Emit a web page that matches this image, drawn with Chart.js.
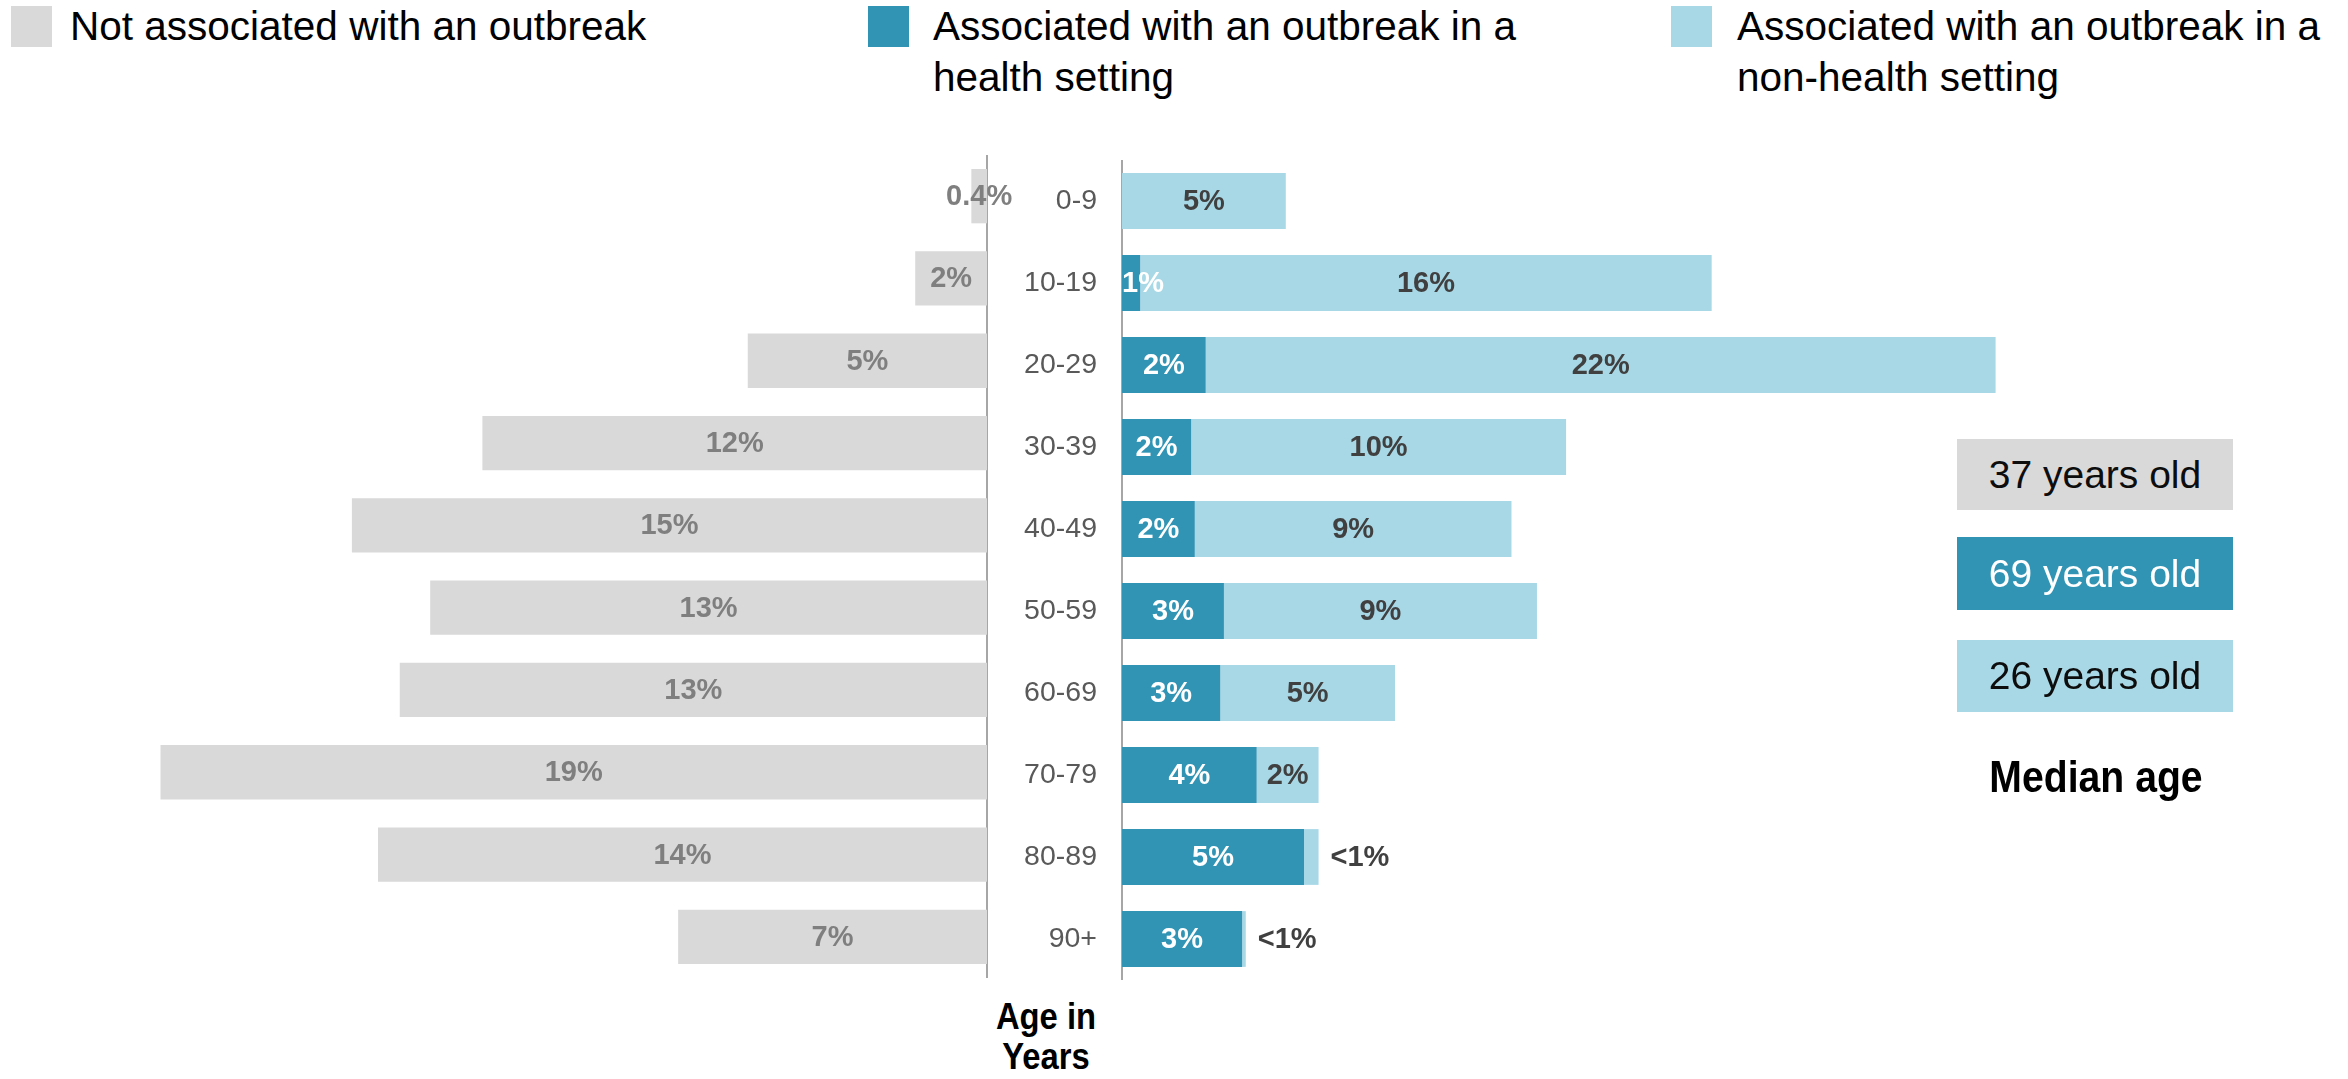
<!DOCTYPE html>
<html lang="en">
<head>
    <meta charset="UTF-8">
    <title>Age distribution by outbreak association</title>
    <style>
        body {
            margin: 0;
            background: #ffffff;
            font-family: 'Liberation Sans', Arial, sans-serif;
        }
        .page {
            position: relative;
            width: 2348px;
            height: 1079px;
            overflow: hidden;
        }
        .swatch {
            position: absolute;
            top: 6px;
            width: 41px;
            height: 41px;
        }
        .legend-text {
            position: absolute;
            top: 1px;
            font-size: 40.5px;
            line-height: 51px;
            color: #000000;
            white-space: nowrap;
        }
        canvas {
            position: absolute;
        }
        .median {
            position: absolute;
            left: 1957px;
            width: 276px;
            font-size: 39px;
            text-align: center;
        }
        .median-title {
            position: absolute;
            left: 1946px;
            width: 300px;
            top: 752px;
            font-size: 44px;
            font-weight: bold;
            text-align: center;
            transform: scaleX(0.89);
            color: #000000;
        }
        .age-title {
            position: absolute;
            left: 966px;
            width: 160px;
            top: 997px;
            font-size: 36px;
            line-height: 40px;
            font-weight: bold;
            text-align: center;
            transform: scaleX(0.91);
            color: #000000;
        }
    </style>
</head>
<body>
<div class="page">
    <div class="swatch" style="left:11px; background:#d9d9d9;"></div>
    <div class="legend-text" style="left:70px;">Not associated with an outbreak</div>
    <div class="swatch" style="left:868px; background:#3194b4;"></div>
    <div class="legend-text" style="left:933px;">Associated with an outbreak in a<br>health setting</div>
    <div class="swatch" style="left:1671px; background:#a8d8e6;"></div>
    <div class="legend-text" style="left:1737px;">Associated with an outbreak in a<br>non-health setting</div>

    <canvas id="leftChart" width="1020" height="823" style="left:0px; top:155px;"></canvas>
    <canvas id="rightChart" width="1214" height="820" style="left:1000px; top:160px;"></canvas>

    <div class="median" id="median0" style="top:439px; height:71px; line-height:71px; background:#d9d9d9; color:#0d0d0d;"></div>
    <div class="median" id="median1" style="top:537px; height:73px; line-height:73px; background:#3194b4; color:#ffffff;"></div>
    <div class="median" id="median2" style="top:640px; height:72px; line-height:72px; background:#a8d8e6; color:#0d0d0d;"></div>
    <div class="median-title">Median age</div>

    <div class="age-title">Age in<br>Years</div>
</div>

<script src="https://cdn.jsdelivr.net/npm/chart.js"></script>
<script>
    // data (percent of cases)
    const ageGroups = ['0-9', '10-19', '20-29', '30-39', '40-49', '50-59', '60-69', '70-79', '80-89', '90+'];

    const notAssociated = [0.36, 1.65, 5.5, 11.6, 14.6, 12.8, 13.5, 19.0, 14.0, 7.1];
    const notAssociatedLabels = ['0.4%', '2%', '5%', '12%', '15%', '13%', '13%', '19%', '14%', '7%'];

    const healthSetting = [0, 0.5, 2.3, 1.9, 2.0, 2.8, 2.7, 3.7, 5.0, 3.3];
    const healthLabels = ['', '1%', '2%', '2%', '2%', '3%', '3%', '4%', '5%', '3%'];

    const nonHealthSetting = [4.5, 15.7, 21.7, 10.3, 8.7, 8.6, 4.8, 1.7, 0.4, 0.1];
    const nonHealthLabels = ['5%', '16%', '22%', '10%', '9%', '9%', '5%', '2%', '<1%', '<1%'];

    const medianAges = ['37 years old', '69 years old', '26 years old'];

    const fontFamily = "'Liberation Sans', Arial, sans-serif";

    medianAges.forEach((txt, i) => {
        document.getElementById('median' + i).textContent = txt;
    });

    // draws the % labels on the bars
    const barLabels = {
        id: 'barLabels',
        afterDatasetsDraw(chart) {
            const ctx = chart.ctx;
            chart.data.datasets.forEach((ds, i) => {
                const meta = chart.getDatasetMeta(i);
                meta.data.forEach((bar, j) => {
                    const text = ds.labelTexts[j];
                    if (!text) return;
                    ctx.save();
                    ctx.font = 'bold 29px ' + fontFamily;
                    ctx.fillStyle = ds.labelColor;
                    ctx.textBaseline = 'middle';
                    const w = ctx.measureText(text).width;
                    const lo = Math.min(bar.x, bar.base);
                    const hi = Math.max(bar.x, bar.base);
                    let x = (lo + hi) / 2;
                    if (ds.outsideSmall && ds.data[j] < 1) {
                        ctx.textAlign = 'left';
                        x = hi + 12;
                    } else {
                        ctx.textAlign = 'center';
                        if (ds.keepInside) x = Math.max(x, lo + w / 2);
                    }
                    ctx.fillText(text, x, bar.y + 1);
                    ctx.restore();
                });
            });
        }
    };

    // left side: not associated (reversed axis)
    new Chart(document.getElementById('leftChart'), {
        type: 'bar',
        data: {
            labels: ageGroups,
            datasets: [{
                data: notAssociated,
                backgroundColor: '#d9d9d9',
                barPercentage: 0.66,
                categoryPercentage: 1,
                labelTexts: notAssociatedLabels,
                labelColor: '#7f7f7f'
            }]
        },
        options: {
            indexAxis: 'y',
            responsive: false,
            animation: false,
            devicePixelRatio: 1,
            layout: { padding: { left: 30, right: 0, top: 0, bottom: 0 } },
            plugins: { legend: { display: false }, tooltip: { enabled: false } },
            scales: {
                x: { display: false, reverse: true, min: 0, max: 22 },
                y: {
                    position: 'right',
                    grid: { display: false, drawTicks: false },
                    ticks: { display: false },
                    border: { display: true, color: '#a6a6a6', width: 2 },
                    afterFit: (scale) => {
                        scale.width = 33;
                        scale.paddingTop = 0;
                        scale.paddingBottom = 0;
                    }
                }
            }
        },
        plugins: [barLabels]
    });

    // right side: associated with an outbreak (stacked)
    new Chart(document.getElementById('rightChart'), {
        type: 'bar',
        data: {
            labels: ageGroups,
            datasets: [{
                data: healthSetting,
                backgroundColor: '#3194b4',
                barPercentage: 0.68,
                categoryPercentage: 1,
                labelTexts: healthLabels,
                labelColor: '#ffffff',
                keepInside: true
            }, {
                data: nonHealthSetting,
                backgroundColor: '#a8d8e6',
                barPercentage: 0.68,
                categoryPercentage: 1,
                labelTexts: nonHealthLabels,
                labelColor: '#404040',
                outsideSmall: true
            }]
        },
        options: {
            indexAxis: 'y',
            responsive: false,
            animation: false,
            devicePixelRatio: 1,
            layout: { padding: 0 },
            plugins: { legend: { display: false }, tooltip: { enabled: false } },
            scales: {
                x: { display: false, stacked: true, min: 0, max: 30 },
                y: {
                    stacked: true,
                    position: 'left',
                    grid: { display: false, drawTicks: false },
                    ticks: {
                        color: '#595959',
                        padding: 25,
                        font: { family: fontFamily, size: 28.5 }
                    },
                    border: { display: true, color: '#a6a6a6', width: 2 },
                    afterFit: (scale) => {
                        // fixed width, and no extra room above/below for tick labels
                        scale.width = 122;
                        scale.paddingTop = 0;
                        scale.paddingBottom = 0;
                    }
                }
            }
        },
        plugins: [barLabels]
    });
</script>
</body>
</html>
